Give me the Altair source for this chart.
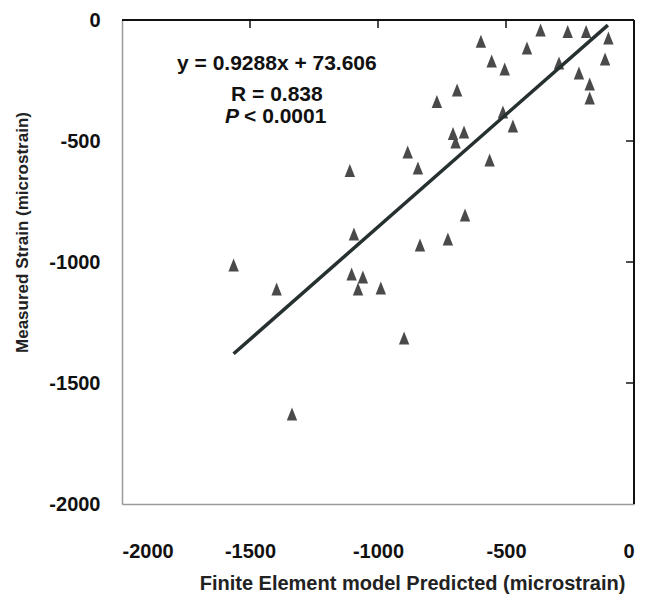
import altair as alt
import pandas as pd

# Finite element predicted (x) vs measured strain (y), microstrain
pred = [-598, -556, -505, -418, -365, -259, -187, -100, -113, -293, -215, -173,
        -173, -691, -770, -512, -473, -707, -664, -697, -564, -884, -844, -1110,
        -660, -727, -836, -1094, -1564, -1396, -1103, -1059, -1078, -989, -898, -1336]
meas = [-88, -169, -202, -116, -41, -48, -48, -74, -161, -178, -219, -264,
        -322, -289, -337, -380, -438, -469, -463, -504, -579, -545, -612, -622,
        -806, -905, -930, -884, -1012, -1112, -1050, -1062, -1112, -1107, -1314, -1628]

# regression line end points (y = 0.9288x + 73.606)
line_x = [-1564, -102]
line_y = [-1379, -21]

tick_vals = [-2000, -1500, -1000, -500, 0]
inner_ticks = [-1500, -1000, -500]

ann_text = ["y = 0.9288x + 73.606", "R = 0.838"]
ann_x = [-1395, -1395]
ann_y = [-182, -310]
p_x = [-1535]
p_y = [-401]

FONT = "Liberation Sans, Arial, Helvetica, sans-serif"
LABEL_EXPR = "'' + datum.value"

pts = pd.DataFrame({"x": pred, "y": meas})
lin = pd.DataFrame({"x": line_x, "y": line_y})
ann = pd.DataFrame({"t": ann_text, "x": ann_x, "y": ann_y})
pdf = pd.DataFrame({"x": p_x, "y": p_y})
tdf = pd.DataFrame({"v": inner_ticks})

xs = alt.Scale(domain=[-2000, 0], nice=False, zero=False)
ys = alt.Scale(domain=[-2000, 0], nice=False, zero=False)

xax = alt.Axis(values=tick_vals, ticks=False, grid=False, domainColor="#9a9a9a",
               domainWidth=1.5, labelFont=FONT, labelFontSize=20, labelFontWeight="bold",
               labelColor="#111", labelPadding=37, labelExpr=LABEL_EXPR,
               title="Finite Element model Predicted (microstrain)",
               titleFont=FONT, titleFontSize=20, titleFontWeight="bold", titleColor="#222",
               titleX=290, titleY=79, titleBaseline="middle", titleAnchor="middle")
yax = alt.Axis(values=tick_vals, ticks=False, grid=False, domainColor="#9a9a9a",
               domainWidth=1.5, labelFont=FONT, labelFontSize=20, labelFontWeight="bold",
               labelColor="#111", labelPadding=22, labelExpr=LABEL_EXPR,
               title="Measured Strain (microstrain)",
               titleFont=FONT, titleFontSize=17, titleFontWeight="bold", titleColor="#222",
               titleX=-100, titleY=212, titleAngle=-90, titleBaseline="middle", titleAnchor="middle")

base_pts = alt.Chart(pts).mark_point(
    shape="M0,-1L0.8,1L-0.8,1Z", filled=True, size=169, color="#4a4a4a", opacity=1
).encode(x=alt.X("x:Q", scale=xs, axis=xax), y=alt.Y("y:Q", scale=ys, axis=yax))

line = alt.Chart(lin).mark_line(color="#263030", strokeWidth=3.5).encode(
    x=alt.X("x:Q", scale=xs), y=alt.Y("y:Q", scale=ys))

top_border = alt.Chart(pd.DataFrame({"a": [0]})).mark_rule(color="#111", strokeWidth=2).encode(
    y=alt.datum(0))
right_border = alt.Chart(pd.DataFrame({"a": [0]})).mark_rule(color="#111", strokeWidth=2).encode(
    x=alt.datum(0))

top_ticks = alt.Chart(tdf).mark_rule(color="#111", strokeWidth=1.5).encode(
    x=alt.X("v:Q", scale=xs), y=alt.datum(0), y2=alt.datum(-33))
right_ticks = alt.Chart(tdf).mark_rule(color="#111", strokeWidth=1.5).encode(
    y=alt.Y("v:Q", scale=ys), x=alt.datum(0), x2=alt.datum(-31))

txt = alt.Chart(ann).mark_text(font=FONT, fontSize=21, fontWeight="bold", color="#111",
                               align="center", baseline="middle").encode(
    x="x:Q", y="y:Q", text="t:N")
p_it = alt.Chart(pdf).mark_text(font=FONT, fontSize=21, fontWeight="bold", fontStyle="italic",
                                color="#111", align="right", baseline="middle", dx=-2).encode(
    x="x:Q", y="y:Q", text=alt.value("P"))
p_rest = alt.Chart(pdf).mark_text(font=FONT, fontSize=21, fontWeight="bold", color="#111",
                                  align="left", baseline="middle", dx=3).encode(
    x="x:Q", y="y:Q", text=alt.value("< 0.0001"))

chart = alt.layer(base_pts, line, top_border, right_border, top_ticks, right_ticks,
                  txt, p_it, p_rest).properties(
    width=512, height=484,
    autosize=alt.AutoSizeParams(type="none"),
    padding={"left": 114, "top": 12, "right": 9, "bottom": 95},
).configure_view(stroke=None).configure(background="white")

chart.save("out.html", embed_options={"renderer": "svg", "actions": False})
